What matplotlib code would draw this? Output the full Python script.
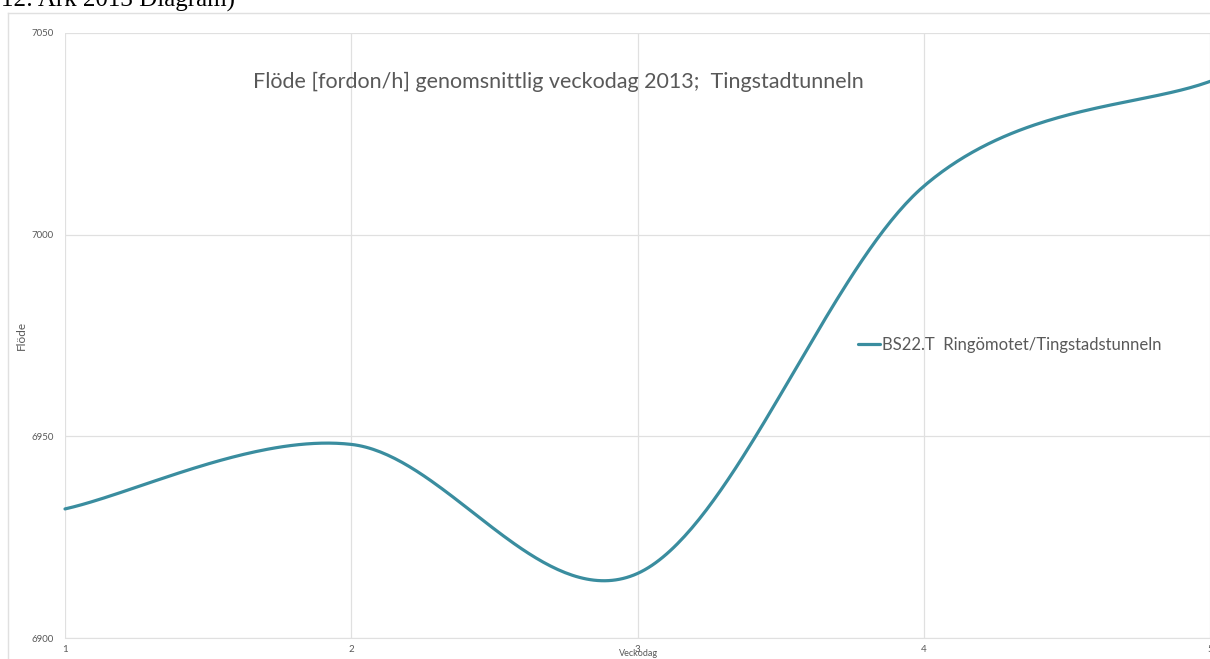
import numpy as np
import matplotlib
matplotlib.use("Agg")
import matplotlib.pyplot as plt
from matplotlib.lines import Line2D

# Average weekday flow per week day, Tingstadtunneln 2013
veckodag = [1, 2, 3, 4, 5]
flode = [6932, 6948, 6916, 7012, 7038]
y_ticks = [6900, 6950, 7000, 7050]
x_ticks = [1, 2, 3, 4, 5]
series_name = "BS22.T  Ringömotet/Tingstadstunneln"
chart_title = "Flöde [fordon/h] genomsnittlig veckodag 2013;  Tingstadtunneln"
header = "12: Ark 2013 Diagram)"

LINE_COLOR = "#3A8D9F"
GRID_COLOR = "#E0E0E0"
TEXT_COLOR = "#595959"
W, H = 1210, 659


def smooth_line(xs, ys, n=80):
    """Bezier curve through every point, Catmull-Rom style control points."""
    pts = np.column_stack([xs, ys]).astype(float)
    first = 1.5 * pts[0] - 0.5 * pts[1]
    last = 1.5 * pts[-1] - 0.5 * pts[-2]
    ext = np.vstack([first, pts, last])
    t = np.linspace(0, 1, n)[:, None]
    parts = []
    for i in range(len(pts) - 1):
        p0, p1, p2, p3 = ext[i], ext[i + 1], ext[i + 2], ext[i + 3]
        c1 = p1 + (p2 - p0) / 6
        c2 = p2 - (p3 - p1) / 6
        seg = (1 - t) ** 3 * p1 + 3 * (1 - t) ** 2 * t * c1 + 3 * (1 - t) * t ** 2 * c2 + t ** 3 * p2
        parts.append(seg if i == 0 else seg[1:])
    curve = np.vstack(parts)
    return curve[:, 0], curve[:, 1]


def fx(px):
    return px / W


def fy(py):
    return 1 - py / H


plt.rcParams["font.family"] = ["Lato", "DejaVu Sans"]

fig = plt.figure(figsize=(W / 100, H / 100), dpi=100)
fig.patch.set_facecolor("white")

# outer chart frame
fig.add_artist(Line2D([fx(8), fx(8)], [fy(13), 0], color=GRID_COLOR, lw=1.0))
fig.add_artist(Line2D([fx(8), 1], [fy(13), fy(13)], color=GRID_COLOR, lw=1.0))

# document caption above the chart
fig.text(fx(1), fy(7), header, family="Liberation Serif", fontsize=18,
         color="black", ha="left", va="baseline")

ax = fig.add_axes([fx(65), fy(638), 1 - fx(65), fy(33) - fy(638)])
sx, sy = smooth_line(veckodag, flode)
ax.plot(sx, sy, color=LINE_COLOR, lw=2.3, solid_capstyle="round",
        label=series_name, clip_on=False, zorder=3)

ax.set_xlim(1, 5)
ax.set_ylim(6900, 7050)
ax.set_xticks(x_ticks)
ax.set_yticks(y_ticks)
ax.grid(True, color=GRID_COLOR, lw=0.9)
ax.set_axisbelow(True)
for side in ("top", "right", "left"):
    ax.spines[side].set_visible(False)
ax.spines["bottom"].set_color(GRID_COLOR)
ax.tick_params(length=0, labelsize=7, colors=TEXT_COLOR)
ax.tick_params(axis="x", pad=5)
ax.tick_params(axis="y", pad=8)

fig.text(fx(21), fy(335), "Flöde", rotation=90, fontsize=8.5, color=TEXT_COLOR,
         ha="center", va="center")
fig.text(fx(639), fy(654), "Veckodag", fontsize=6.5, color=TEXT_COLOR,
         ha="center", va="center")
fig.text(fx(558), fy(82), chart_title, fontsize=15.5, color=TEXT_COLOR,
         ha="center", va="center")

ax.legend(loc="center left", bbox_to_anchor=(fx(858), fy(345)),
          bbox_transform=fig.transFigure, frameon=False, borderpad=0,
          borderaxespad=0, handlelength=1.3, handletextpad=0.15,
          fontsize=12, labelcolor=TEXT_COLOR)

fig.savefig("out.png", dpi=100, facecolor="white")
